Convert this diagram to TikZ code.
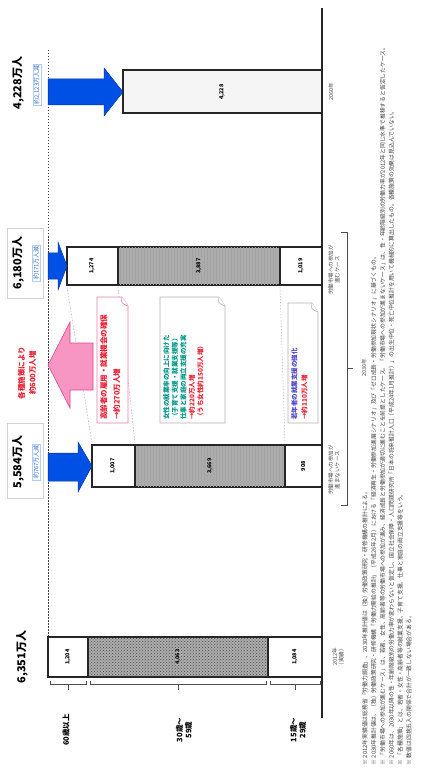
\documentclass[tikz,border=0pt]{standalone}
\usepackage{fontspec}
\setmainfont{Noto Sans CJK JP}
\usetikzlibrary{patterns}
\definecolor{arrowblue}{RGB}{0,80,230}
\definecolor{downblue}{RGB}{40,110,210}
\definecolor{pinkfill}{RGB}{247,150,195}
\definecolor{pinkline}{RGB}{225,70,140}
\definecolor{txtred}{RGB}{235,30,50}
\definecolor{txtteal}{RGB}{0,150,135}
\definecolor{txtpurple}{RGB}{80,70,200}
\tikzset{
  bar/.style={draw=gray!30!black, line width=1.1pt},
  seg/.style={bar, fill=white},
  midseg/.style={bar, fill=gray!65},
  num/.style={rotate=90, font=\fontsize{5.5}{6}\selectfont\bfseries},
  total/.style={rotate=90, font=\fontsize{11}{12}\selectfont\bfseries},
  decrease/.style={rotate=90, font=\fontsize{6}{7}\selectfont, text=downblue, draw=downblue!35, inner sep=1pt},
  labelbox/.style={draw=gray!35, line width=0.5pt},
  blockarrow/.style={fill=arrowblue, draw=arrowblue!70!black, line width=0.5pt},
  callout/.style={draw=gray!60, fill=white, line width=0.6pt},
  calltext/.style={rotate=90, anchor=north west, align=left, inner sep=1pt},
  yearlab/.style={rotate=90, font=\fontsize{5.5}{6.5}\selectfont, text=gray!60!black, align=center},
  agelab/.style={rotate=90, font=\fontsize{7.5}{9}\selectfont\bfseries, align=center},
  brk/.style={draw=gray!60!black, line width=0.5pt},
  guide/.style={draw=gray!60, line width=0.5pt, dash pattern=on 1.5pt off 1.5pt}
}
\begin{document}
\begin{tikzpicture}[x=1pt, y=-1pt]
\useasboundingbox (0,0) rectangle (432,775);

% eixo e linha de 2012
\draw[line width=1.1pt, gray!30!black] (322,8) -- (322,718);
\draw[guide, gray!50!black] (48,50) -- (48,637);

% 2012
\draw[seg] (48,637) rectangle (88,677);
\draw[midseg] (88,637) rectangle (268,677);
\fill[pattern=crosshatch dots, pattern color=gray!60!black] (89,638) rectangle (267,676);
\draw[seg] (268,637) rectangle (322,677);
\node[num] (v12a) at (68,657) {1,204};
\node[num, fill=gray!65, inner sep=0.5pt] (v12b) at (178,657) {4,063};
\node[num] (v12c) at (295,657) {1,084};
\node[total] (t12) at (22,657) {6,351万人};
\node[yearlab] (y12) at (338,657) {2012年\\（実績）};

% faixas etarias
\foreach \a/\b in {48/88, 88/268, 268/322}
  \draw[brk] (\a+2,681) -- (\a+2,684) -- (\b-2,684) -- (\b-2,681)
             ({(\a+\b)/2},684) -- ({(\a+\b)/2},690);
\node[agelab] (g60) at (66,730) {60歳以上};
\node[agelab] (g30) at (184,730) {30歳～\\59歳};
\node[agelab] (g15) at (298,730) {15歳～\\29歳};

% 2030:参加が進まない
\draw[labelbox] (7,423) rectangle (43,498);
\draw[seg] (92,445) rectangle (135,487);
\draw[midseg] (135,445) rectangle (285,487);
\fill[pattern=vertical lines, pattern color=gray!72] (136,446) rectangle (284,486);
\draw[seg] (285,445) rectangle (322,487);
\node[num] (va1) at (113,466) {1,007};
\node[num, fill=gray!65, inner sep=0.5pt] (va2) at (210,466) {3,669};
\node[num] (va3) at (303,466) {908};
\draw[blockarrow] (48,453) -- (78,453) -- (78,442) -- (92,466) -- (78,492) -- (78,481) -- (48,481) -- cycle;
\node[total] (ta) at (18,462) {5,584万人};
\node[decrease] (da) at (36,462) {約767万人減};
\node[yearlab] (ya) at (334,470) {労働市場への参加が\\進まないケース};

% 2030: 参加が進む
\draw[labelbox] (7,228) rectangle (43,298);
\draw[seg] (67,247) rectangle (118,285);
\draw[midseg] (118,247) rectangle (280,285);
\fill[pattern=vertical lines, pattern color=gray!72] (119,248) rectangle (279,284);
\draw[seg] (280,247) rectangle (322,285);
\node[num] (vb1) at (92,266) {1,274};
\node[num, fill=gray!65, inner sep=0.5pt] (vb2) at (199,266) {3,887};
\node[num] (vb3) at (301,266) {1,019};
\draw[blockarrow] (48,253) -- (58,253) -- (58,242) -- (67,266) -- (58,290) -- (58,279) -- (48,279) -- cycle;
\node[total] (tb) at (18,263) {6,180万人};
\node[decrease] (db) at (36,263) {約171万人減};
\node[yearlab] (yb) at (334,270) {労働市場への参加が\\進むケース};

% linhas entre as duas barras
\draw[guide] (67,287) -- (92,443);
\draw[guide] (118,287) -- (135,443);
\draw[guide] (280,287) -- (285,443);

% 2030年
\draw[brk] (341,232) -- (347,232) -- (347,505) -- (341,505);
\draw[brk] (347,368) -- (353,368);
\node[yearlab] (y30) at (364,368) {2030年};

% seta rosa
\draw[fill=pinkfill, draw=pinkline, line width=0.6pt] (93,343) -- (70,343) -- (70,322) -- (48,365) -- (70,408) -- (70,390) -- (93,390) -- cycle;
\node[rotate=90, font=\fontsize{7.5}{11}\selectfont\bfseries, text=txtred, align=center] (pk) at (27,373) {各種施策により\\約600万人増};

% balões
\draw[callout, draw=pinkline!70] (97,297) -- (122,297) -- (128,306) -- (128,423) -- (97,423) -- cycle;
\draw[callout, draw=pinkline!70] (122,297) .. controls (121,303) .. (128,306);
\node[calltext, font=\fontsize{7.5}{13}\selectfont\bfseries, text=txtred] (c1) at (99,421) {高齢者の雇用・就業機会の確保\\→約270万人増};

\draw[callout] (160,297) -- (219,297) -- (225,306) -- (225,423) -- (160,423) -- cycle;
\draw[callout] (219,297) .. controls (218,303) .. (225,306);
\node[calltext, font=\fontsize{6.5}{8.5}\selectfont\bfseries] (c2) at (162,421) {\textcolor{txtteal}{女性の就業率の向上に向けた}\\\textcolor{txtteal}{（子育て支援・就業支援等）}\\\textcolor{txtteal}{仕事と家庭の両立支援の充実}\\\textcolor{txtred}{→約220万人増}\\\textcolor{txtred}{（うち女性約150万人増）}};

\draw[callout] (288,303) -- (312,303) -- (318,312) -- (318,423) -- (288,423) -- cycle;
\draw[callout] (312,303) .. controls (311,309) .. (318,312);
\node[calltext, font=\fontsize{6.5}{10}\selectfont\bfseries] (c3) at (290,421) {\textcolor{txtpurple}{若年者の就業支援の強化}\\\textcolor{txtred}{→約110万人増}};

% 2060
\draw[bar, fill=gray!8] (123,70) rectangle (322,113);
\node[num] (v60) at (222,92) {4,228};
\draw[blockarrow] (48,79) -- (104,79) -- (104,68) -- (123,92) -- (104,116) -- (104,105) -- (48,105) -- cycle;
\node[total] (t60) at (18,83) {4,228万人};
\node[decrease] (d60) at (37,85) {約2,123万人減};
\node[yearlab] (y60) at (331,92) {2060年};

% notas
\node[rotate=90, anchor=north west, text width=755pt, inner sep=0pt, text=gray!50!black,
      font=\fontsize{5.8}{8.8}\selectfont] (notes) at (362,766) {%
※ 2012年実績値は総務省「労働力調査」、2030年推計値は（独）労働政策研究・研修機構の推計による。\\
※ 2030年推計値は、（独）労働政策研究・研修機構「労働力需給の推計」（平成26年2月）における「経済再生・労働参加進展シナリオ」及び「ゼロ成長・労働参加現状シナリオ」に基づくもの。\\
※ 「労働市場への参加が進むケース」は、若者、女性、高齢者等の労働市場への参加が進み、経済成長と労働参加が適切に進むことを前提としたケース。「労働市場への参加が進まないケース」は、性・年齢階級別の労働力率が2012年と同じ水準で推移すると仮定したケース。\\
※ 2060年は、2030年以降の性・年齢階級別の労働力率が変わらないと仮定し、国立社会保障・人口問題研究所「日本の将来推計人口（平成24年1月推計）」の出生中位・死亡中位推計を用いて機械的に算出したもの。各種施策の効果は見込んでいない。\\
※ 「各種施策」とは、若者・女性・高齢者等の就業支援、子育て支援、仕事と家庭の両立支援等をいう。\\
※ 数値は四捨五入の関係で合計が一致しない場合がある。};
\end{tikzpicture}
\end{document}
